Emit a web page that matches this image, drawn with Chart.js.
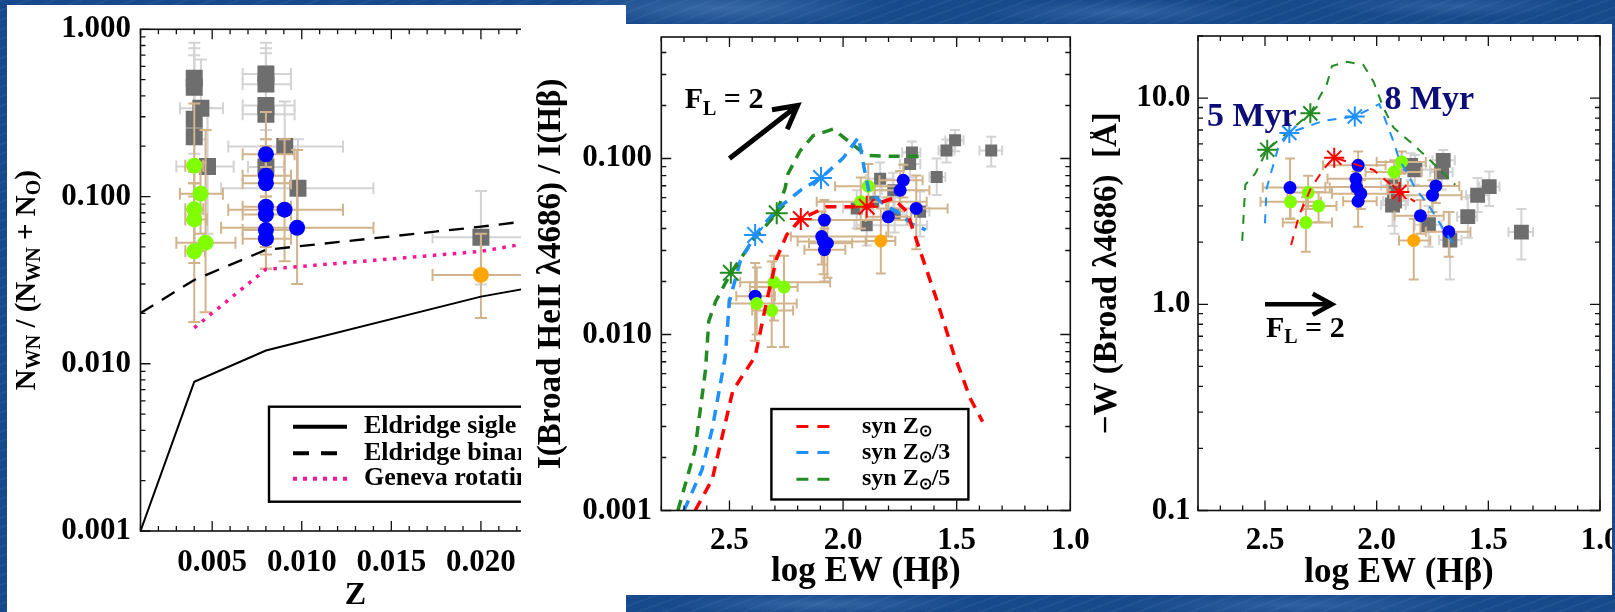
<!DOCTYPE html>
<html>
<head>
<meta charset="utf-8">
<script src="https://cdn.jsdelivr.net/npm/chart.js@4.4.1/dist/chart.umd.min.js"></script>
<style>
  html, body { margin: 0; padding: 0; }
  body {
    width: 1615px; height: 612px; position: relative; overflow: hidden;
    background-color: #174a8c;
    background-image:
      radial-gradient(ellipse 240px 26px at 720px 8px, rgba(120,165,215,.35), rgba(0,0,0,0) 70%),
      radial-gradient(ellipse 200px 18px at 1120px 12px, rgba(110,155,210,.30), rgba(0,0,0,0) 70%),
      radial-gradient(ellipse 180px 16px at 1450px 6px, rgba(110,155,210,.25), rgba(0,0,0,0) 70%),
      radial-gradient(ellipse 260px 18px at 1300px 605px, rgba(110,155,210,.28), rgba(0,0,0,0) 70%),
      radial-gradient(ellipse 220px 16px at 820px 604px, rgba(120,165,215,.30), rgba(0,0,0,0) 70%),
      repeating-linear-gradient(160deg, rgba(255,255,255,.04) 0 2px, rgba(0,0,0,0) 2px 9px);
  }
  .sheet { position: absolute; background: #fff; }
  .clip { position: absolute; overflow: hidden; }
  canvas { position: absolute; display: block; }
</style>
</head>
<body>
<div class="sheet" style="left:7px;top:5px;width:619px;height:607px"></div>
<div class="sheet" style="left:626px;top:24px;width:986px;height:571px"></div>
<div class="clip" style="left:7px;top:5px;width:514px;height:607px">
  <canvas id="chartZ" width="600" height="607" style="left:0;top:0"></canvas>
</div>
<canvas id="chartRatio" width="560" height="571" style="left:530px;top:24px"></canvas>
<canvas id="chartEW" width="522" height="571" style="left:1090px;top:24px"></canvas>

<script>
const SERIF = "'Liberation Serif', 'Times New Roman', serif";
const INK = '#000';
const GRAY = '#6e6e6e', GRAY_ERR = '#d3d3d3', TAN = '#d2b48c';
const GREEN = '#7fff00', BLUE = '#0000ff', ORANGE = '#ffa500';
const SYN_RED = '#ff0000', SYN_BLUE = '#1e90ff', SYN_GREEN = '#228b22';

// ---- panel 1: N_WN / (N_WN + N_O) vs Z ----
const modelZ = [0.001, 0.004, 0.008, 0.020, 0.040];
const eldridgeSingle = [0.001, 0.0078, 0.012, 0.0252, 0.061];
const eldridgeBinary = [0.0201, 0.0317, 0.048, 0.066, 0.12];
const genevaZ = [0.004, 0.008, 0.020, 0.040];
const genevaRotating = [0.0164, 0.0367, 0.047, 0.11];
const zTicks = [0.005, 0.010, 0.015, 0.020];
const ratioTicks = [0.001, 0.01, 0.1, 1];

// rows: [Z, ratio, Z low, Z high, ratio low, ratio high]
const zGray = [
  [0.0040, 0.51, 0.0038, 0.0042, 0.30, 0.83],
  [0.0040, 0.45, 0.0038, 0.0042, 0.28, 0.77],
  [0.00437, 0.337, 0.0032, 0.0056, 0.22, 0.66],
  [0.0040, 0.29, 0.0037, 0.0043, 0.18, 0.70],
  [0.0040, 0.228, 0.0037, 0.0043, 0.14, 0.45],
  [0.00474, 0.151, 0.0030, 0.0062, 0.06, 0.34],
  [0.0080, 0.54, 0.0067, 0.0094, 0.35, 0.83],
  [0.0080, 0.47, 0.0067, 0.0094, 0.30, 0.77],
  [0.0080, 0.35, 0.0067, 0.0096, 0.22, 0.72],
  [0.0080, 0.31, 0.0067, 0.0096, 0.20, 0.60],
  [0.0080, 0.15, 0.0070, 0.0090, 0.10, 0.25],
  [0.00905, 0.199, 0.0059, 0.0123, 0.12, 0.37],
  [0.00979, 0.112, 0.0055, 0.0140, 0.07, 0.22],
  [0.0200, 0.057, 0.0173, 0.0227, 0.0298, 0.108]
];
const zGreen = [
  [0.0040, 0.153, 0.0035, 0.0045, 0.10, 0.36],
  [0.00435, 0.104, 0.0032, 0.0056, 0.06, 0.16],
  [0.0040, 0.084, 0.0035, 0.0045, 0.05, 0.14],
  [0.0040, 0.073, 0.0035, 0.0047, 0.04, 0.12],
  [0.00463, 0.053, 0.0030, 0.0063, 0.0203, 0.25],
  [0.0040, 0.047, 0.0035, 0.0046, 0.0178, 0.12]
];
const zBlue = [
  [0.0080, 0.179, 0.0067, 0.0096, 0.12, 0.32],
  [0.0080, 0.133, 0.0067, 0.0094, 0.09, 0.22],
  [0.0080, 0.120, 0.0067, 0.0094, 0.08, 0.20],
  [0.0080, 0.087, 0.0067, 0.0094, 0.05, 0.15],
  [0.0080, 0.078, 0.0067, 0.0094, 0.045, 0.13],
  [0.0080, 0.063, 0.0067, 0.0094, 0.037, 0.10],
  [0.0080, 0.056, 0.0067, 0.0094, 0.037, 0.09],
  [0.00904, 0.0835, 0.0059, 0.0123, 0.041, 0.22],
  [0.00974, 0.065, 0.0055, 0.0140, 0.030, 0.19]
];
const zOrange = [[0.0200, 0.034, 0.0173, 0.0227, 0.0188, 0.060]];

// ---- panels 2 and 3: against log EW(Hb) ----
const ewTicks = [1.0, 1.5, 2.0, 2.5];
const heTicks = [0.001, 0.01, 0.1];
const wTicks = [0.1, 1, 10];

// HeII/Hb synthesis tracks [log EW, ratio]
const heSynSolar = [[2.651, 0.001], [2.576, 0.0015], [2.485, 0.0048], [2.387, 0.0075], [2.336, 0.0155],
  [2.292, 0.0272], [2.248, 0.0368], [2.186, 0.0453], [2.072, 0.0532], [1.896, 0.0532], [1.779, 0.0593],
  [1.719, 0.0499], [1.675, 0.0338], [1.591, 0.0162], [1.515, 0.0079], [1.439, 0.0043], [1.386, 0.0032]];
const heSynThird = [[2.70, 0.001], [2.621, 0.0017], [2.576, 0.0029], [2.519, 0.0074], [2.50, 0.0155],
  [2.453, 0.026], [2.387, 0.0368], [2.288, 0.052], [2.182, 0.0668], [2.097, 0.0775], [2.0, 0.1004],
  [1.932, 0.132], [1.909, 0.0907], [1.886, 0.0646], [1.818, 0.0546], [1.757, 0.0493], [1.697, 0.0424], [1.636, 0.0393]];
const heSynFifth = [[2.727, 0.001], [2.652, 0.0022], [2.606, 0.0062], [2.591, 0.0119], [2.561, 0.0154],
  [2.494, 0.0224], [2.394, 0.0346], [2.292, 0.0488], [2.255, 0.068], [2.242, 0.082], [2.19, 0.11],
  [2.131, 0.135], [2.043, 0.147], [1.955, 0.119], [1.896, 0.104], [1.818, 0.103], [1.66, 0.103]];
const heAgesSolar = [[2.186, 0.0453], [1.896, 0.0532]];
const heAgesThird = [[2.387, 0.0368], [2.097, 0.0775]];
const heAgesFifth = [[2.494, 0.0224], [2.292, 0.0488]];

// rows: [log EW, ratio, EW low, EW high, ratio low, ratio high]
const heGray = [
  [1.697, 0.108, 1.74, 1.66, 0.092, 0.125],
  [1.705, 0.093, 1.75, 1.66, 0.078, 0.110],
  [1.545, 0.111, 1.58, 1.51, 0.095, 0.128],
  [1.507, 0.127, 1.55, 1.47, 0.110, 0.145],
  [1.348, 0.111, 1.40, 1.30, 0.090, 0.133],
  [1.588, 0.0785, 1.62, 1.55, 0.062, 0.100],
  [1.837, 0.0767, 1.90, 1.78, 0.060, 0.095],
  [1.940, 0.052, 2.00, 1.88, 0.040, 0.066],
  [1.896, 0.0418, 1.95, 1.63, 0.032, 0.055],
  [1.867, 0.0568, 1.92, 1.81, 0.045, 0.070],
  [1.779, 0.066, 1.83, 1.73, 0.052, 0.083],
  [1.661, 0.0499, 1.70, 1.62, 0.036, 0.065],
  [1.773, 0.048, 1.82, 1.72, 0.038, 0.060]
];
const heBlue = [
  [2.387, 0.0165, 2.47, 2.30, 0.0092, 0.0255],
  [2.082, 0.0447, 2.20, 1.72, 0.033, 0.058],
  [2.094, 0.0360, 2.23, 1.81, 0.025, 0.050],
  [2.086, 0.0337, 2.20, 1.90, 0.022, 0.047],
  [2.069, 0.0330, 2.15, 1.96, 0.021, 0.045],
  [2.082, 0.0303, 2.17, 1.99, 0.020, 0.040],
  [1.735, 0.0752, 1.84, 1.65, 0.060, 0.092],
  [1.749, 0.0660, 1.86, 1.62, 0.050, 0.085],
  [1.801, 0.0466, 1.90, 1.70, 0.036, 0.060],
  [1.678, 0.0520, 1.81, 1.54, 0.0305, 0.080]
];
const heGreen = [
  [2.380, 0.0150, 2.505, 2.204, 0.0100, 0.024],
  [2.314, 0.0137, 2.40, 2.22, 0.0085, 0.026],
  [2.304, 0.0198, 2.453, 2.057, 0.012, 0.028],
  [2.260, 0.0186, 2.41, 2.20, 0.0085, 0.028],
  [1.889, 0.0696, 2.035, 1.749, 0.052, 0.093],
  [1.922, 0.0568, 2.116, 1.632, 0.040, 0.078]
];
const heOrange = [[1.834, 0.034, 1.90, 1.77, 0.0222, 0.052]];

// -W(HeII) synthesis tracks [log EW, -W]
const wSynSolar = [[2.383, 1.94], [2.347, 2.71], [2.295, 3.64], [2.237, 4.54], [2.19, 5.14],
  [2.014, 4.48], [1.898, 3.5], [1.828, 3.15]];
const wSynThird = [[2.50, 2.47], [2.493, 3.64], [2.442, 5.68], [2.391, 6.78], [2.237, 7.77], [2.098, 8.14],
  [1.988, 9.35], [1.929, 6.34], [1.90, 5.08], [1.826, 3.64], [1.768, 3.03], [1.694, 2.25], [1.643, 1.87]];
const wSynFifth = [[2.602, 2.03], [2.588, 3.8], [2.544, 4.3], [2.49, 5.62], [2.297, 8.43], [2.223, 11.7],
  [2.20, 14.3], [2.134, 15.0], [2.06, 14.5], [2.014, 12.0], [1.968, 8.9], [1.925, 7.2], [1.84, 6.0],
  [1.768, 5.08], [1.648, 3.8]];
const wAgesSolar = [[2.19, 5.14], [1.898, 3.5]];
const wAgesThird = [[2.391, 6.78], [2.098, 8.14]];
const wAgesFifth = [[2.49, 5.62], [2.297, 8.43]];

const wGray = [
  [1.848, 4.72, 1.92, 1.78, 4.0, 5.4],
  [1.702, 4.99, 1.75, 1.65, 4.2, 5.6],
  [1.709, 4.38, 1.76, 1.66, 3.6, 5.2],
  [1.829, 4.49, 1.90, 1.76, 3.8, 5.3],
  [1.922, 3.77, 1.98, 1.86, 3.1, 4.5],
  [1.929, 3.03, 1.98, 1.87, 2.4, 3.7],
  [1.920, 3.17, 1.97, 1.86, 2.2, 3.9],
  [1.768, 2.43, 1.83, 1.71, 1.9, 3.0],
  [1.672, 2.05, 1.72, 1.62, 1.32, 2.8],
  [1.592, 2.66, 1.64, 1.55, 2.1, 3.3],
  [1.548, 3.38, 1.60, 1.50, 2.8, 4.1],
  [1.496, 3.72, 1.54, 1.45, 3.0, 4.4],
  [1.352, 2.24, 1.41, 1.30, 1.65, 2.9]
];
const wBlue = [
  [2.388, 3.68, 2.51, 2.21, 2.6, 5.1],
  [2.083, 4.72, 2.24, 1.96, 4.1, 5.5],
  [2.093, 4.06, 2.22, 1.90, 3.5, 4.8],
  [2.090, 3.70, 2.23, 1.95, 3.1, 4.4],
  [2.071, 3.44, 2.20, 1.94, 2.9, 4.0],
  [2.083, 3.16, 2.15, 2.00, 2.38, 3.9],
  [1.735, 3.75, 1.86, 1.63, 3.1, 4.5],
  [1.750, 3.38, 1.88, 1.62, 2.8, 4.0],
  [1.804, 2.69, 1.92, 1.70, 2.2, 3.2],
  [1.677, 2.25, 1.78, 1.58, 1.7, 2.8]
];
const wGreen = [
  [2.386, 3.14, 2.52, 2.25, 2.6, 3.8],
  [2.307, 3.48, 2.40, 2.20, 2.9, 4.2],
  [2.260, 3.00, 2.33, 2.18, 2.5, 3.5],
  [2.317, 2.49, 2.42, 2.20, 1.8, 3.3],
  [1.888, 4.90, 2.00, 1.78, 4.3, 5.5],
  [1.922, 4.38, 2.05, 1.80, 3.8, 5.0]
];
const wOrange = [[1.834, 2.04, 1.90, 1.76, 1.32, 2.6]];

// F_L = 2 shift vectors
const ratioShift = [[2.5, 0.1], [2.2, 0.2]];
const ewShift = [[2.5, 1.0], [2.2, 1.0]];

// ---------- helpers ----------
const pairs = (xs, ys) => xs.map((x, i) => ({x, y: ys[i]}));
const pts = rows => rows.map(r => ({x: r[0], y: r[1]}));

function curve(data, color, width, dash, order) {
  return {data, showLine: true, borderColor: color, borderWidth: width, borderDash: dash,
    borderCapStyle: 'butt', pointRadius: 0, order};
}

function symbols(rows, style, radius, color, order, errColor, rank) {
  return {
    data: pts(rows), pointStyle: style, pointRadius: radius,
    pointBackgroundColor: color, pointBorderColor: color,
    pointBorderWidth: style === 'star' ? 2 : 0, order,
    errors: rows[0].length > 2 ? rows.map(r => r.slice(2)) : null,
    errColor, errRank: rank
  };
}

function drawParts(ctx, parts, x, y, size, align, subScale) {
  const k = subScale || 0.65;
  const main = `bold ${size}px ${SERIF}`, small = `bold ${Math.round(size * k)}px ${SERIF}`;
  let w = 0;
  parts.forEach(([t, sub]) => { ctx.font = sub ? small : main; w += ctx.measureText(t).width; });
  let cx = align === 'center' ? x - w / 2 : x;
  parts.forEach(([t, sub]) => {
    ctx.font = sub ? small : main;
    ctx.fillText(t, cx, sub ? y + size * 0.22 : y);
    cx += ctx.measureText(t).width;
  });
}

function drawLegend(ctx, x, y, w, h, rows, lay) {
  ctx.save();
  ctx.lineWidth = 2.4; ctx.strokeStyle = INK;
  ctx.strokeRect(x, y, w, h);
  rows.forEach((r, i) => {
    const cy = y + lay.rows[i];
    ctx.beginPath();
    ctx.strokeStyle = r.color; ctx.lineWidth = r.width; ctx.setLineDash(r.dash); ctx.lineCap = 'butt';
    ctx.moveTo(x + lay.line[0], cy); ctx.lineTo(x + lay.line[1], cy);
    ctx.stroke();
    ctx.setLineDash([]);
    ctx.fillStyle = INK; ctx.textBaseline = 'middle';
    drawParts(ctx, r.parts, x + lay.text, cy, lay.size, 'left');
  });
  ctx.restore();
}

function drawArrow(chart, from, to, width, head) {
  const {ctx, scales: {x, y}} = chart;
  const x0 = x.getPixelForValue(from[0]), y0 = y.getPixelForValue(from[1]);
  const x1 = x.getPixelForValue(to[0]), y1 = y.getPixelForValue(to[1]);
  const ang = Math.atan2(y1 - y0, x1 - x0);
  ctx.save();
  ctx.strokeStyle = INK; ctx.lineWidth = width; ctx.lineCap = 'butt'; ctx.lineJoin = 'miter';
  ctx.beginPath();
  ctx.moveTo(x0, y0); ctx.lineTo(x1, y1);
  ctx.moveTo(x1 - head * Math.cos(ang - 0.5), y1 - head * Math.sin(ang - 0.5));
  ctx.lineTo(x1, y1);
  ctx.lineTo(x1 - head * Math.cos(ang + 0.5), y1 - head * Math.sin(ang + 0.5));
  ctx.stroke();
  ctx.restore();
}

function textAt(chart, parts, at, size, color) {
  const {ctx, scales: {x, y}} = chart;
  ctx.save();
  ctx.fillStyle = color; ctx.textBaseline = 'alphabetic';
  drawParts(ctx, parts, x.getPixelForValue(at[0]), y.getPixelForValue(at[1]), size, 'left');
  ctx.restore();
}

function strokeErrors(chart, list) {
  const {ctx, chartArea: a, scales: {x, y}} = chart;
  ctx.save();
  ctx.beginPath(); ctx.rect(a.left, a.top, a.right - a.left, a.bottom - a.top); ctx.clip();
  ctx.lineWidth = 2; ctx.lineCap = 'butt';
  list.forEach(ds => {
    const cap = ds.errCap || 5;
    ctx.strokeStyle = ds.errColor;
    ds.data.forEach((p, k) => {
      const [xlo, xhi, ylo, yhi] = ds.errors[k];
      const px = x.getPixelForValue(p.x), py = y.getPixelForValue(p.y);
      const x1 = x.getPixelForValue(xlo), x2 = x.getPixelForValue(xhi);
      const y1 = y.getPixelForValue(ylo), y2 = y.getPixelForValue(yhi);
      ctx.beginPath();
      ctx.moveTo(x1, py); ctx.lineTo(x2, py);
      ctx.moveTo(x1, py - cap); ctx.lineTo(x1, py + cap);
      ctx.moveTo(x2, py - cap); ctx.lineTo(x2, py + cap);
      ctx.moveTo(px, y1); ctx.lineTo(px, y2);
      ctx.moveTo(px - cap, y1); ctx.lineTo(px + cap, y1);
      ctx.moveTo(px - cap, y2); ctx.lineTo(px + cap, y2);
      ctx.stroke();
    });
  });
  ctx.restore();
}

// light gray bars sit under the gray squares, tan bars go over them and under the circles
const errorBars = {
  id: 'errorBars',
  beforeDatasetDraw(chart, args) {
    const ds = chart.data.datasets[args.index];
    if (ds.errRank === 0) strokeErrors(chart, [ds]);
  },
  afterDatasetDraw(chart, args) {
    const ds = chart.data.datasets[args.index];
    if (ds.errRank !== 0) return;
    strokeErrors(chart, chart.data.datasets.filter(d => d.errors && d.errRank === 1));
  }
};

// closed box with inward ticks on all four sides
const frame = {
  id: 'frame',
  afterDatasetsDraw(chart, args, o) {
    const {ctx, chartArea: a, scales: {x, y}} = chart;
    ctx.save();
    ctx.strokeStyle = '#111'; ctx.lineWidth = 1.6; ctx.setLineDash([]);
    ctx.strokeRect(a.left, a.top, a.right - a.left, a.bottom - a.top);
    ctx.lineWidth = 1.3;
    ctx.beginPath();
    for (let i = 0; ; i++) {
      const v = Math.round((o.xFrom + i * o.xStep) * 1e6) / 1e6;
      if (v > o.xTo + 1e-9) break;
      const r = v / o.xMajor, len = Math.abs(r - Math.round(r)) < 1e-6 ? 10 : 5;
      const p = x.getPixelForValue(v);
      ctx.moveTo(p, a.bottom); ctx.lineTo(p, a.bottom - len);
      ctx.moveTo(p, a.top); ctx.lineTo(p, a.top + len);
    }
    for (let e = o.yExpFrom; e <= o.yExpTo; e++) {
      for (let k = 1; k < 10; k++) {
        const v = k * Math.pow(10, e);
        if (v < y.min * 0.999 || v > y.max * 1.001) continue;
        const len = k === 1 ? 10 : 5, p = y.getPixelForValue(v);
        ctx.moveTo(a.left, p); ctx.lineTo(a.left + len, p);
        ctx.moveTo(a.right, p); ctx.lineTo(a.right - len, p);
      }
    }
    ctx.stroke();
    ctx.restore();
  }
};

Chart.register(errorBars, frame);

const tickFont = {family: SERIF, size: 31, weight: 'bold'};

function fixBox(size) {
  return s => {
    if (s.isHorizontal()) s.height = size; else s.width = size;
    s.paddingLeft = s.paddingRight = s.paddingTop = s.paddingBottom = 0;
  };
}

function axis(o) {
  return {
    type: o.type, min: o.min, max: o.max, reverse: !!o.reverse,
    grid: {display: false, drawTicks: false}, border: {display: false},
    afterBuildTicks: s => { s.ticks = o.ticks.map(v => ({value: v})); },
    afterFit: fixBox(o.box),
    ticks: {autoSkip: false, maxRotation: 0, padding: o.pad, color: INK, font: tickFont,
      callback: v => Number(v).toFixed(o.digits)},
    title: o.title ? {display: true, text: o.title, color: INK,
      font: Object.assign({family: SERIF, weight: 'bold'}, o.titleFont), padding: o.titlePad} : {display: false}
  };
}

function build(id, o) {
  return new Chart(document.getElementById(id), {
    type: 'scatter',
    data: {datasets: o.datasets},
    options: {
      responsive: false, animation: false, events: [],
      layout: {padding: o.padding},
      plugins: {legend: {display: false}, tooltip: {enabled: false}, frame: o.frame},
      scales: {x: axis(o.x), y: axis(o.y)}
    },
    plugins: [o.notes]
  });
}

// ---------- panel 1 ----------
const grayZ = symbols(zGray, 'rect', 12, GRAY, 5, GRAY_ERR, 0);
const greenZ = symbols(zGreen, 'circle', 8, GREEN, 3, TAN, 1);
const blueZ = symbols(zBlue, 'circle', 8, BLUE, 3, TAN, 1);
const orangeZ = symbols(zOrange, 'circle', 8, ORANGE, 3, TAN, 1);
[grayZ, greenZ, blueZ, orangeZ].forEach(d => { d.errCap = 6; });

build('chartZ', {
  padding: {left: 0, top: 24.3, right: 36.5, bottom: 0},
  frame: {xFrom: 0.001, xTo: 0.025, xStep: 0.001, xMajor: 0.005, yExpFrom: -3, yExpTo: 0},
  x: {type: 'linear', min: 0.001, max: 0.025, ticks: zTicks, digits: 3, box: 81, pad: 13,
    title: 'Z', titleFont: {size: 32, lineHeight: 1}, titlePad: {top: 0, bottom: 0}},
  y: {type: 'logarithmic', min: 0.001, max: 1, ticks: ratioTicks, digits: 3, box: 133.5, pad: 9.6},
  datasets: [
    curve(pairs(modelZ, eldridgeSingle), INK, 2, [], 1),
    curve(pairs(modelZ, eldridgeBinary), INK, 2.3, [15, 10], 1),
    curve(pairs(genevaZ, genevaRotating), '#ff1493', 3.5, [3.5, 6.5], 1),
    greenZ, blueZ, orangeZ, grayZ
  ],
  notes: {
    id: 'zNotes',
    afterDraw(chart) {
      const {ctx, chartArea: a} = chart;
      ctx.save();
      ctx.fillStyle = INK; ctx.textBaseline = 'middle';
      ctx.translate(21, (a.top + a.bottom) / 2);
      ctx.rotate(-Math.PI / 2);
      drawParts(ctx, [['N'], ['WN', 1], [' / (N'], ['WN', 1], [' + N'], ['O', 1], [')']], 0, 0, 29, 'center', 0.7);
      ctx.restore();
      drawLegend(ctx, a.left + 128.5, a.top + 377.4, 330, 95, [
        {parts: [['Eldridge sigle']], color: INK, width: 4, dash: []},
        {parts: [['Eldridge binary']], color: INK, width: 4, dash: [16, 12]},
        {parts: [['Geneva rotating']], color: '#ff1493', width: 4, dash: [4, 6]}
      ], {rows: [20, 46.5, 72], line: [24, 78], text: 95, size: 26});
    }
  }
});

// ---------- panel 2 ----------
build('chartRatio', {
  padding: {left: 0, top: 10, right: 19.7, bottom: 0},
  frame: {xFrom: 1.0, xTo: 2.8, xStep: 0.1, xMajor: 0.5, yExpFrom: -3, yExpTo: -1},
  x: {type: 'linear', min: 1.0, max: 2.8, reverse: true, ticks: ewTicks, digits: 1, box: 84.5, pad: 12,
    title: 'log EW (Hβ)', titleFont: {size: 35, lineHeight: 1.2}, titlePad: {top: 0, bottom: 2}},
  y: {type: 'logarithmic', min: 0.001, max: 0.49, ticks: heTicks, digits: 3, box: 131.3, pad: 9.4,
    title: 'I(Broad HeII λ4686) / I(Hβ)', titleFont: {size: 33, lineHeight: 1.2}, titlePad: {top: 2, bottom: 0}},
  datasets: [
    symbols(heAgesSolar, 'star', 11, SYN_RED, 0),
    symbols(heAgesThird, 'star', 11, SYN_BLUE, 0),
    symbols(heAgesFifth, 'star', 11, SYN_GREEN, 0),
    curve(pts(heSynSolar), SYN_RED, 3.5, [11, 8], 1),
    curve(pts(heSynThird), SYN_BLUE, 3.5, [11, 8], 1),
    curve(pts(heSynFifth), SYN_GREEN, 3.5, [11, 8], 1),
    symbols(heOrange, 'circle', 6.5, ORANGE, 2, TAN, 1),
    symbols(heGreen, 'circle', 6.5, GREEN, 2, TAN, 1),
    symbols(heBlue, 'circle', 6.5, BLUE, 3, TAN, 1),
    symbols(heGray, 'rect', 8.5, GRAY, 4, GRAY_ERR, 0)
  ],
  notes: {
    id: 'ratioNotes',
    afterDraw(chart) {
      const {ctx, chartArea: a} = chart;
      drawArrow(chart, ratioShift[0], ratioShift[1], 5, 26);
      textAt(chart, [['F'], ['L', 1], [' = 2']], [2.697, 0.193], 30, INK);
      drawLegend(ctx, a.left + 110.1, a.top + 372, 197, 90.5, [
        {parts: [['syn Z'], ['⊙', 1]], color: SYN_RED, width: 3, dash: [12, 9]},
        {parts: [['syn Z'], ['⊙', 1], ['/3']], color: SYN_BLUE, width: 3, dash: [12, 9]},
        {parts: [['syn Z'], ['⊙', 1], ['/5']], color: SYN_GREEN, width: 3, dash: [12, 9]}
      ], {rows: [17.5, 43.6, 70.2], line: [25, 66.5], text: 90.6, size: 24});
    }
  }
});

// ---------- panel 3 ----------
build('chartEW', {
  padding: {left: 0, top: 10, right: 4.7, bottom: 0},
  frame: {xFrom: 1.0, xTo: 2.8, xStep: 0.1, xMajor: 0.5, yExpFrom: -1, yExpTo: 1},
  x: {type: 'linear', min: 1.0, max: 2.8, reverse: true, ticks: ewTicks, digits: 1, box: 84.5, pad: 12,
    title: 'log EW (Hβ)', titleFont: {size: 35, lineHeight: 1.2}, titlePad: {top: 0, bottom: 1}},
  y: {type: 'logarithmic', min: 0.1, max: 20, ticks: wTicks, digits: 1, box: 108, pad: 7.6,
    title: '−W (Broad λ4686)  [Å]', titleFont: {size: 33, lineHeight: 1.2}, titlePad: {top: -2, bottom: 0}},
  datasets: [
    symbols(wAgesSolar, 'star', 10, SYN_RED, 0),
    symbols(wAgesThird, 'star', 10, SYN_BLUE, 0),
    symbols(wAgesFifth, 'star', 10, SYN_GREEN, 0),
    curve(pts(wSynSolar), SYN_RED, 2, [9, 8], 1),
    curve(pts(wSynThird), SYN_BLUE, 2, [9, 8], 1),
    curve(pts(wSynFifth), SYN_GREEN, 2, [9, 8], 1),
    symbols(wOrange, 'circle', 6.5, ORANGE, 2, TAN, 1),
    symbols(wGreen, 'circle', 6.5, GREEN, 2, TAN, 1),
    symbols(wBlue, 'circle', 6.5, BLUE, 3, TAN, 1),
    symbols(wGray, 'rect', 10.5, GRAY, 4, GRAY_ERR, 0)
  ],
  notes: {
    id: 'ewNotes',
    afterDraw(chart) {
      drawArrow(chart, ewShift[0], ewShift[1], 4.5, 22);
      textAt(chart, [['F'], ['L', 1], [' = 2']], [2.496, 0.697], 30, INK);
      textAt(chart, [['5 Myr']], [2.76, 7.3], 34, '#0d0d78');
      textAt(chart, [['8 Myr']], [1.965, 8.9], 34, '#0d0d78');
    }
  }
});
</script>
</body>
</html>
